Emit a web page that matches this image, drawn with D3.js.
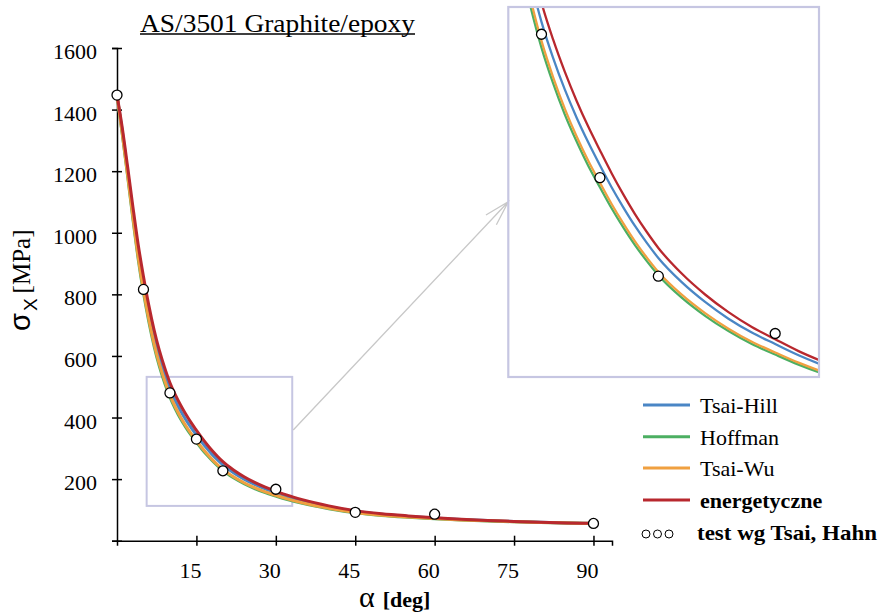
<!DOCTYPE html>
<html>
<head>
<meta charset="utf-8">
<script src="https://cdn.jsdelivr.net/npm/d3@7"></script>
<style>
  body { margin: 0; background: #fff; }
  svg { display: block; }
  svg text { font-family: "Liberation Serif", "Times New Roman", serif; }
</style>
</head>
<body>
<div id="chart"></div>
<script>
// angles (deg) at which the failure curves are sampled
const alpha = [0, 1, 2, 3, 4, 5, 6, 7, 8, 9, 10, 11, 12, 13, 14, 15, 16, 17, 18, 19, 20,
  22, 24, 26, 28, 30, 32, 35, 40, 45, 50, 55, 60, 65, 70, 75, 80, 85, 90];

const tsaiHill = [1447, 1330, 1200, 1065, 940, 835, 742, 662, 595, 540, 493, 455, 422, 393, 367, 343, 320, 299, 279.5, 262, 246,
  220.7, 200, 182.5, 168, 156, 144.3, 129.7, 110.5, 95.7, 86, 79, 73.5, 69, 65.3, 62.4, 59.6, 57.8, 56];
const hoffman = [1447, 1320, 1185, 1045, 915, 805, 712, 632, 566, 512, 466, 428.5, 396, 368, 342.5, 320, 298, 278, 259.5, 243, 228,
  204.5, 185.5, 169.5, 156, 145, 134.5, 121.2, 103.8, 90.5, 82, 76, 71, 67, 64, 61.5, 59, 57.5, 56];
const tsaiWu = [1447, 1322, 1189, 1051, 922, 813, 720, 640, 574, 520, 473, 435, 402, 373.3, 347.7, 324.8, 302.5, 282.2, 263.4, 246.6, 231.4,
  207.6, 188.3, 172, 158.3, 147.2, 136.5, 123, 105.3, 91.8, 83, 77, 71.8, 67.6, 64.4, 61.8, 59.2, 57.6, 56];
const energetic = [1447, 1340, 1215, 1085, 962, 858, 765, 685, 618, 562, 513, 474.3, 440.6, 410.5, 383.4, 358.7, 334.7, 312.5, 291.9, 273.4, 256.5,
  229.7, 207.8, 189.3, 173.8, 161, 148.6, 133.3, 113.1, 97.7, 87.7, 80.6, 74.6, 69.7, 65.9, 62.7, 59.7, 57.8, 56.3];

// test points (Tsai, Hahn)
const testAlpha = [0, 5, 10, 15, 20, 30, 45, 60, 90];
const testSigma = [1447, 816, 480, 330, 227, 167, 92, 86, 56];

const seriesNames = ['Tsai-Hill', 'Hoffman', 'Tsai-Wu', 'energetyczne'];
const seriesColors = ['#4a86c5', '#4caf62', '#f0a040', '#b8282e'];
const xTicks = [15, 30, 45, 60, 75, 90];
const yTicks = [0, 200, 400, 600, 800, 1000, 1200, 1400, 1600];

// zoomed window (data units) shown enlarged on the right
const zoomAlpha = [5.6, 33.1];
const zoomSigma = [113, 532];
const insetAlpha = [7.16, 33.75];
const insetSigma = [121.5, 508.5];

const width = 881, height = 616;
const series = [tsaiHill, hoffman, tsaiWu, energetic];

const svg = d3.select('#chart').append('svg')
  .attr('width', width)
  .attr('height', height);

const serif = '"Liberation Serif", "Times New Roman", serif';
const sans = '"Liberation Sans", Arial, sans-serif';

const x = d3.scaleLinear().domain([0, 93.5]).range([117, 612]);
const y = d3.scaleLinear().domain([0, 1600]).range([540.7, 48]);

// inset scales
const ix = d3.scaleLinear().domain(insetAlpha).range([508.3, 819]);
const iy = d3.scaleLinear().domain(insetSigma).range([377, 7]);

// title
svg.append('text')
  .attr('x', 140).attr('y', 31.5)
  .attr('font-family', serif).attr('font-size', 26)
  .attr('textLength', 275).attr('lengthAdjust', 'spacingAndGlyphs')
  .text('AS/3501 Graphite/epoxy');
svg.append('line')
  .attr('x1', 140).attr('x2', 415)
  .attr('y1', 34).attr('y2', 34)
  .attr('stroke', '#000').attr('stroke-width', 1.3);

// zoom window box in main plot
svg.append('rect')
  .attr('x', x(zoomAlpha[0])).attr('y', y(zoomSigma[1]))
  .attr('width', x(zoomAlpha[1]) - x(zoomAlpha[0]))
  .attr('height', y(zoomSigma[0]) - y(zoomSigma[1]))
  .attr('fill', 'none').attr('stroke', '#c6c6e2').attr('stroke-width', 2);

// arrow to inset
const ax1 = x(zoomAlpha[1]) + 1, ay1 = 430, ax2 = 508.3, ay2 = 201.7;
const ang = Math.atan2(ay1 - ay2, ax1 - ax2);
const wl = 26, wa = 16 * Math.PI / 180;
svg.append('path')
  .attr('d', `M${ax1},${ay1}L${ax2},${ay2}` +
    `M${ax2 + wl * Math.cos(ang + wa)},${ay2 + wl * Math.sin(ang + wa)}L${ax2},${ay2}` +
    `L${ax2 + wl * Math.cos(ang - wa)},${ay2 + wl * Math.sin(ang - wa)}`)
  .attr('fill', 'none').attr('stroke', '#c8c8c8').attr('stroke-width', 1.3);

// axes
const yAxis = svg.append('g')
  .attr('transform', `translate(${x(0)},0)`)
  .call(d3.axisLeft(y).tickValues(yTicks).tickSizeOuter(0).tickSize(5)
    .tickFormat(d => d === 0 ? '' : d));
yAxis.attr('font-family', serif).attr('font-size', 22);
yAxis.select('.domain').attr('stroke-width', 1.5);
yAxis.selectAll('.tick line').attr('x1', -5).attr('x2', 5).attr('stroke-width', 1.5);
yAxis.selectAll('.tick text')
  .attr('x', -20).attr('dy', null).attr('y', 10.5).attr('fill', '#000');

const xAxis = svg.append('g')
  .attr('transform', `translate(0,${y(0)})`)
  .call(d3.axisBottom(x).tickValues(xTicks).tickSizeOuter(0).tickSize(5));
xAxis.attr('font-family', serif).attr('font-size', 22);
xAxis.select('.domain').attr('stroke-width', 1.5);
xAxis.selectAll('.tick line').attr('y1', -5).attr('y2', 5).attr('stroke-width', 1.5);
xAxis.selectAll('.tick text')
  .attr('x', -6.5).attr('dy', null).attr('y', 37.5).attr('fill', '#000');

// axis titles
const xt = svg.append('text').attr('x', 359).attr('y', 607).attr('font-family', serif);
xt.append('tspan').attr('font-size', 30).text('α');
xt.append('tspan').attr('dx', 8).attr('font-size', 22).attr('font-weight', 'bold').text('[deg]');

const yt = svg.append('text')
  .attr('transform', 'translate(30,331) rotate(-90)');
yt.append('tspan').attr('font-family', sans).attr('font-size', 29).text('σ');
yt.append('tspan').attr('dy', 7).attr('dx', 2).attr('font-family', sans).attr('font-size', 19).text('X');
yt.append('tspan').attr('dy', -7).attr('dx', 5).attr('font-family', serif).attr('font-size', 25).text('[MPa]');

// main curves
const line = (sx, sy) => d3.line()
  .x((d, i) => sx(alpha[i]))
  .y(d => sy(d))
  .curve(d3.curveMonotoneX);

const main = svg.append('g');
series.forEach((s, k) => {
  main.append('path')
    .datum(s)
    .attr('d', line(x, y))
    .attr('fill', 'none')
    .attr('stroke', seriesColors[k])
    .attr('stroke-width', 3)
    .attr('stroke-linejoin', 'round');
});

main.selectAll('circle')
  .data(testAlpha)
  .enter().append('circle')
  .attr('cx', d => x(d))
  .attr('cy', (d, i) => y(testSigma[i]))
  .attr('r', 5)
  .attr('fill', '#fff').attr('stroke', '#000').attr('stroke-width', 1.3);

// inset
svg.append('clipPath').attr('id', 'insetClip')
  .append('rect')
  .attr('x', ix.range()[0]).attr('y', iy.range()[1])
  .attr('width', ix.range()[1] - ix.range()[0])
  .attr('height', iy.range()[0] - iy.range()[1]);

const inset = svg.append('g').attr('clip-path', 'url(#insetClip)');
[1, 2, 0, 3].forEach(k => {
  inset.append('path')
    .datum(series[k])
    .attr('d', line(ix, iy))
    .attr('fill', 'none')
    .attr('stroke', seriesColors[k])
    .attr('stroke-width', 2.3);
});
inset.selectAll('circle')
  .data(testAlpha.filter(a => a >= insetAlpha[0] && a <= insetAlpha[1]))
  .enter().append('circle')
  .attr('cx', d => ix(d))
  .attr('cy', d => iy(testSigma[testAlpha.indexOf(d)]))
  .attr('r', 5)
  .attr('fill', '#fff').attr('stroke', '#000').attr('stroke-width', 1.3);

svg.append('rect')
  .attr('x', ix.range()[0]).attr('y', iy.range()[1])
  .attr('width', ix.range()[1] - ix.range()[0])
  .attr('height', iy.range()[0] - iy.range()[1])
  .attr('fill', 'none').attr('stroke', '#c6c6e2').attr('stroke-width', 2.2);

// legend
const legendY = [405, 436.7, 468, 500];
const legend = svg.append('g').attr('font-family', serif).attr('font-size', 22);
seriesNames.forEach((name, k) => {
  legend.append('line')
    .attr('x1', 643).attr('x2', 690)
    .attr('y1', legendY[k]).attr('y2', legendY[k])
    .attr('stroke', seriesColors[k]).attr('stroke-width', 3);
  legend.append('text')
    .attr('x', 700).attr('y', legendY[k] + 8)
    .attr('font-weight', k === 3 ? 'bold' : 'normal')
    .text(name);
});
[646, 657.5, 669].forEach(cx => {
  legend.append('circle')
    .attr('cx', cx).attr('cy', 534).attr('r', 4)
    .attr('fill', '#fff').attr('stroke', '#000').attr('stroke-width', 1);
});
legend.append('text')
  .attr('x', 697).attr('y', 540)
  .attr('font-weight', 'bold')
  .attr('textLength', 180).attr('lengthAdjust', 'spacingAndGlyphs')
  .text('test wg Tsai, Hahn');
</script>
</body>
</html>
